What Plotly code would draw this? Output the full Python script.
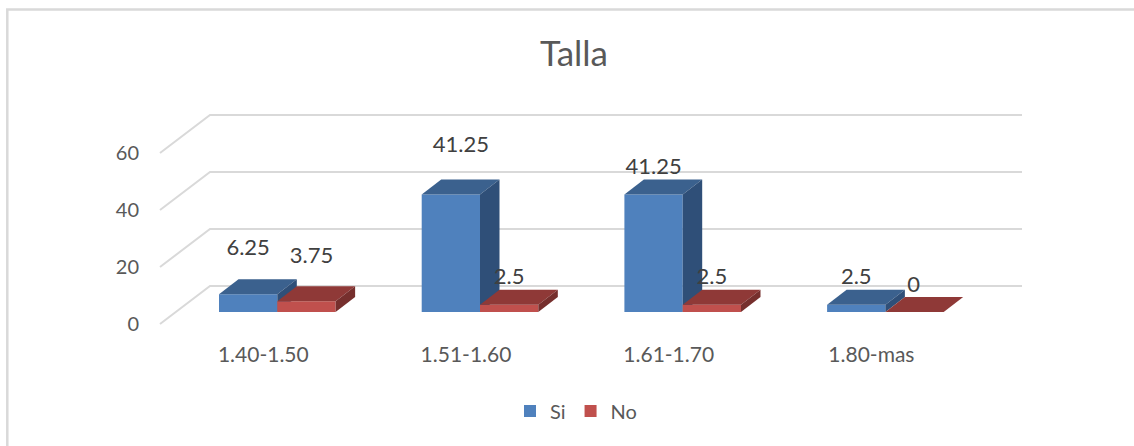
import plotly.graph_objects as go

# Chart data
categories = ["1.40-1.50", "1.51-1.60", "1.61-1.70", "1.80-mas"]
si_values = [6.25, 41.25, 41.25, 2.5]
no_values = [3.75, 2.5, 2.5, 0]
y_ticks = [0, 20, 40, 60]

# Data label placement relative to the front face's top centre, in pixels
si_label_dx = [0, 10, 0, 0]
si_label_dy = [45, 48, 26, 26]
no_label_dx = [5, 0, 0, -1]
no_label_dy = [44, 26, 26, 26]

W, H = 1134, 446
PLOT_L, PLOT_R, PLOT_T, PLOT_B = 150, 1034, 100, 335
PX_PER_UNIT = 2.85          # vertical scale, pixels per value unit
PX_PER_CAT = 202.7          # horizontal spacing between categories
FIRST_CAT_PX = 277.3        # pixel position of the first category
BASELINE_PX = 312           # pixel row of value 0 on the bars' front plane
BAR_W = 58.3 / PX_PER_CAT   # bar width in category units

# 3D extrusion of a bar, in axis units
DEPTH_X = 19.5 / PX_PER_CAT
DEPTH_Y = 15 / PX_PER_UNIT
# Extrusion of the wall from the chart front to its back plane
WALL_X = 50 / PX_PER_CAT
WALL_Y = 38 / PX_PER_UNIT

x_range = [(PLOT_L - FIRST_CAT_PX) / PX_PER_CAT, (PLOT_R - FIRST_CAT_PX) / PX_PER_CAT]
y_range = [(BASELINE_PX - PLOT_B) / PX_PER_UNIT, (BASELINE_PX - PLOT_T) / PX_PER_UNIT]
# Value axis labels sit slightly below the bars' front plane
LABEL_SHIFT = 12 / PX_PER_UNIT
GRID_SHIFT = 12 / PX_PER_UNIT
GRID_LEFT = (160 - FIRST_CAT_PX) / PX_PER_CAT
GRID_RIGHT = (1022 - FIRST_CAT_PX) / PX_PER_CAT
# Category labels belong to the chart's front edge, left of the bars' plane
CAT_LABEL_SHIFT = -14 / PX_PER_CAT

SI_FRONT, SI_TOP, SI_SIDE = "#4f81bd", "#3b618e", "#2f4f78"
NO_FRONT, NO_TOP, NO_SIDE = "#c0504d", "#8f3937", "#762f2d"
TEXT = "#595959"
LABEL_TEXT = "#404040"
GRID = "#d9d9d9"
FONT = "Lato"

fig = go.Figure()

# Receding gridlines sit beneath every trace
grid_shapes = []
for t in y_ticks:
    base = t - GRID_SHIFT
    back = base + WALL_Y
    grid_shapes.append(dict(
        type="path", xref="x", yref="y", layer="below",
        path=f"M {GRID_LEFT},{base} L {GRID_LEFT + WALL_X},{back} L {GRID_RIGHT},{back}",
        line=dict(color=GRID, width=2),
    ))


def add_box(left, value, top, side, yaxis):
    """Top and side faces of one bar; the front face is a regular bar trace."""
    right = left + BAR_W
    fig.add_trace(go.Scatter(
        x=[left, right, right + DEPTH_X, left + DEPTH_X, left],
        y=[value, value, value + DEPTH_Y, value + DEPTH_Y, value],
        fill="toself", fillcolor=top, mode="lines", line=dict(width=0, color=top),
        showlegend=False, hoverinfo="skip", yaxis=yaxis,
    ))
    fig.add_trace(go.Scatter(
        x=[right, right + DEPTH_X, right + DEPTH_X, right, right],
        y=[0, DEPTH_Y, value + DEPTH_Y, value, 0],
        fill="toself", fillcolor=side, mode="lines", line=dict(width=0, color=side),
        showlegend=False, hoverinfo="skip", yaxis=yaxis,
    ))


xs = list(range(len(categories)))

# "Si" stays on the base axes; "No" goes on an overlaid twin so it paints on top
fig.add_trace(go.Bar(
    x=xs, y=si_values, name="Si", width=BAR_W, offset=-BAR_W,
    marker=dict(color=SI_FRONT, line=dict(width=0)), hoverinfo="skip", yaxis="y",
))
for i in xs:
    add_box(i - BAR_W, si_values[i], SI_TOP, SI_SIDE, "y")

fig.add_trace(go.Bar(
    x=xs, y=no_values, name="No", width=BAR_W, offset=0,
    marker=dict(color=NO_FRONT, line=dict(width=0)), hoverinfo="skip", yaxis="y3",
))
for i in xs:
    add_box(i, no_values[i], NO_TOP, NO_SIDE, "y3")

# Data labels float above the extruded tops
fig.add_trace(go.Scatter(
    x=[i - BAR_W / 2 + si_label_dx[i] / PX_PER_CAT for i in xs],
    y=[si_values[i] + si_label_dy[i] / PX_PER_UNIT for i in xs],
    text=[str(v) for v in si_values], mode="text",
    textfont=dict(family=FONT, size=22, color=LABEL_TEXT),
    textposition="middle center", showlegend=False, hoverinfo="skip", yaxis="y3",
))
fig.add_trace(go.Scatter(
    x=[i + BAR_W / 2 + no_label_dx[i] / PX_PER_CAT for i in xs],
    y=[no_values[i] + no_label_dy[i] / PX_PER_UNIT for i in xs],
    text=[str(v) for v in no_values], mode="text",
    textfont=dict(family=FONT, size=22, color=LABEL_TEXT),
    textposition="middle center", showlegend=False, hoverinfo="skip", yaxis="y3",
))

# An invisible trace keeps the value axis active
fig.add_trace(go.Scatter(x=[0], y=[0], yaxis="y2", mode="markers",
                         marker=dict(opacity=0), showlegend=False, hoverinfo="skip"))

fig.update_layout(
    width=W, height=H, autosize=False,
    margin=dict(l=0, r=0, t=0, b=0),
    paper_bgcolor="white", plot_bgcolor="rgba(0,0,0,0)",
    barmode="overlay",
    font=dict(family=FONT, size=20, color=TEXT),
    title=dict(text="Talla", x=574 / W, xanchor="center", y=1 - 54 / H, yanchor="middle",
               font=dict(family=FONT, size=35, color=TEXT)),
    showlegend=True,
    legend=dict(orientation="h", x=576 / W, xanchor="center", y=1 - 411 / H, yanchor="middle",
                font=dict(family=FONT, size=20, color=TEXT),
                itemwidth=30, bgcolor="rgba(0,0,0,0)"),
    xaxis=dict(
        domain=[PLOT_L / W, PLOT_R / W], anchor="y", range=x_range,
        tickmode="array", tickvals=[i + CAT_LABEL_SHIFT for i in xs], ticktext=categories,
        showgrid=False, zeroline=False, showline=False, ticks="outside",
        ticklen=1, tickcolor="rgba(0,0,0,0)",
        tickfont=dict(family=FONT, size=21, color=TEXT),
    ),
    yaxis=dict(
        domain=[1 - PLOT_B / H, 1 - PLOT_T / H], range=y_range,
        showgrid=False, zeroline=False, showline=False, showticklabels=False,
    ),
    # Value axis, shifted down from the bars' plane as on a 3D chart wall
    yaxis2=dict(
        domain=[1 - PLOT_B / H, 1 - PLOT_T / H], overlaying="y", anchor="free",
        position=PLOT_L / W, side="left",
        range=[y_range[0] + LABEL_SHIFT, y_range[1] + LABEL_SHIFT],
        tickmode="array", tickvals=y_ticks,
        showgrid=False, zeroline=False, showline=False, ticks="",
        ticklabelstandoff=11,
        tickfont=dict(family=FONT, size=20, color=TEXT),
    ),
    yaxis3=dict(
        domain=[1 - PLOT_B / H, 1 - PLOT_T / H], overlaying="y", anchor="x",
        range=y_range, visible=False,
    ),
    shapes=grid_shapes + [dict(
        type="path", xref="paper", yref="paper", layer="below",
        path=f"M {7.3 / W},0 L {7.3 / W},{1 - 9.5 / H} L 1,{1 - 9.5 / H}",
        line=dict(color=GRID, width=2.5),
    )],
)

fig.write_html("out.html")
